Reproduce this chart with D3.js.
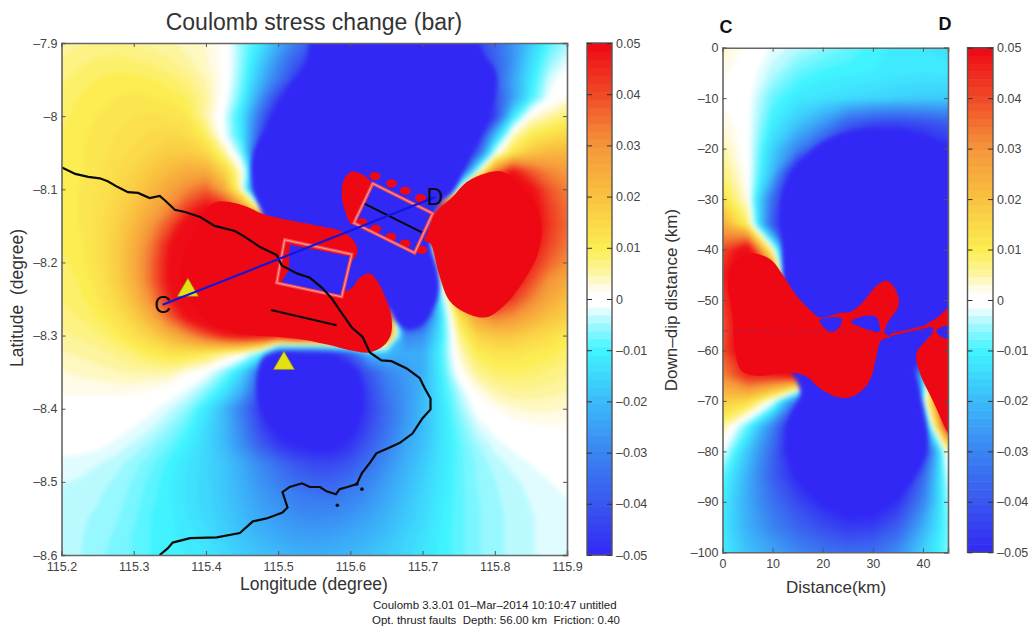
<!DOCTYPE html>
<html>
<head>
<meta charset="utf-8">
<script src="https://cdn.jsdelivr.net/npm/d3@7"></script>
<style>
  body { margin: 0; background: #fff; }
  text { font-family: "Liberation Sans", Arial, sans-serif; fill: #333; }
</style>
</head>
<body>
<svg id="chart" width="1031" height="626"></svg>
<script>
const colorStops = [-5, -4, -3, -2, -1, -0.5, -0.25, -0.1, 0.1, 0.25, 0.5, 1, 2, 3, 4, 5];
const colorValues = ['#3228f5', '#3a56f0', '#3a84f2', '#3cbafa', '#40f4ff', '#a0f8ff', '#dcfcff', '#ffffff',
  '#ffffff', '#fffbe4', '#fdf5a6', '#fcee52', '#f9c240', '#f5963a', '#f04a28', '#ee0814'];

const barTicks = [0.05, 0.04, 0.03, 0.02, 0.01, 0, -0.01, -0.02, -0.03, -0.04, -0.05];

const mapLonTicks = [115.2, 115.3, 115.4, 115.5, 115.6, 115.7, 115.8, 115.9];
const mapLatTicks = [-7.9, -8, -8.1, -8.2, -8.3, -8.4, -8.5, -8.6];
const sectionDistTicks = [0, 10, 20, 30, 40];
const sectionDepthTicks = [0, -10, -20, -30, -40, -50, -60, -70, -80, -90, -100];

// map grid: 115.2..115.9 and -7.9..-8.6, every 0.025 degree
const mapField = [
  [.55,.6,.65,.65,.6,.55,.5,.4,.3,.1,-.6,-1.2,-2.2,-3.2,-4,-4.7,-5.2,-5.5,-5.6,-5.6,-5.5,-5.3,-5,-4.4,-3.6,-2.7,-1.7,-.9,-.5],
  [.65,.75,.8,.85,.8,.75,.65,.5,.35,.1,-.6,-1.6,-2.8,-3.9,-4.9,-5.5,-6,-6,-6,-6,-6,-5.8,-5.4,-4.7,-3.8,-2.7,-1.4,-.6,-.2],
  [.75,.85,.95,1,1,.95,.85,.7,.45,.1,-.7,-2,-3.3,-4.6,-5.5,-6,-6,-6,-6,-6,-6,-6,-5.6,-5,-3.9,-2.4,-1.2,-.3,.05],
  [.85,.95,1.05,1.1,1.15,1.1,1.05,.9,.55,.05,-.9,-2.6,-4.5,-5.5,-6,-6,-6,-6,-6,-6,-6,-6,-5.8,-5.3,-4.2,-2.5,-1,-.1,.2],
  [.9,1,1.1,1.2,1.25,1.3,1.25,1.1,.5,-.15,-1.3,-3.5,-5.5,-6,-6,-6,-6,-6,-6,-6,-6,-6,-6,-5.5,-4.5,-1.2,.2,.5,.8],
  [.95,1.05,1.15,1.25,1.35,1.45,1.5,1.4,.9,-.1,-1.2,-4,-6,-6,-6,-6,-6,-6,-6,-6,-6,-6,-6,-5.5,-2,.3,1,1.3,1.5],
  [1,1.05,1.2,1.3,1.45,1.6,1.8,1.8,1.5,.6,-.7,-5,-6,-6,-6,-6,-6,-6,-6,-6,-6,-6,-6,-4,-.2,1.2,1.9,2.2,2.3],
  [1,1.05,1.2,1.4,1.6,1.9,2.2,2.5,2.5,1.6,.2,-3,-6,-6,-6,-6,-6,-6,-6,-6,-6,-6,-5,-.5,3.2,4.8,3.8,3.2,2.9],
  [1,1.1,1.25,1.45,1.75,2.2,2.7,3.2,3.7,2.6,.2,-5,-6,-6,-6,-6,-6,-6,-6,-6,-6,-6,0,5.5,6,6,5,3.9,3.3],
  [1,1.1,1.3,1.55,1.95,2.5,3.2,4.2,5,4.6,3,.3,-6,-6,-6,-6,-6,-6,-6,-6,-6,6,6,6,6,6,5.4,4.2,3.5],
  [1,1.1,1.3,1.65,2.2,3,4,5.5,6,6,6,6,6,6,6,-6,-6,-6,-6,-6,-6,6,6,6,6,6,5.5,4.3,3.6],
  [.95,1.05,1.3,1.7,2.4,3.4,4.8,6,6,6,6,6,6,6,6,6,6,-6,-6,-6,-6,6,6,6,6,6,5.2,4.1,3.4],
  [.9,1,1.3,1.7,2.5,3.6,5,6,6,6,6,6,6,6,6,6,6,-6,-6,-6,-6,3,6,6,6,6,4.6,3.7,3.1],
  [.85,.95,1.2,1.65,2.4,3.6,5,6,6,6,6,6,6,6,6,6,6,6,-2,-6,-6,.1,5,6,6,5.2,4,3,2.6],
  [.8,.9,1.1,1.5,2.1,3.2,4.6,6,6,6,6,6,6,6,6,6,6,6,6,-6,-6,-1,2.5,5,5.2,4.2,3.3,2.6,2.1],
  [.7,.8,.95,1.25,1.7,2.5,3.7,5,6,6,6,6,6,6,6,6,6,6,6,-5.5,-4.5,-1.3,1.2,2.7,3.3,3,2.5,2,1.7],
  [.6,.65,.75,.95,1.3,1.7,2.3,3,3.8,4.6,5,5,5,6,6,6,6,6,4,-3,-2.8,-1.2,.6,1.6,1.9,1.9,1.6,1.4,1.1],
  [.45,.5,.55,.65,.8,1,1.2,1.2,1,.6,.2,-.8,-5,-5.5,-5.5,-5,-4,-2,-2,-2.3,-2.2,-1,.3,1,1.2,1.2,1.1,1,.85],
  [.3,.35,.4,.45,.5,.5,.5,.2,-.05,-.6,-1.5,-3.5,-5.5,-6,-6,-5.8,-5,-4,-3,-2.6,-2.2,-1.1,.05,.6,.85,.9,.85,.75,.65],
  [.2,.2,.2,.2,.2,.15,0,-.2,-.6,-1.2,-2.2,-4,-5.5,-6,-6,-6,-5.4,-4.4,-3.3,-2.7,-2.1,-1.2,-.4,.2,.5,.6,.6,.55,.5],
  [.02,.02,0,0,0,-.1,-.3,-.6,-1.2,-2,-3.2,-4.6,-5.7,-6,-6,-6,-5.6,-4.5,-3.5,-2.7,-2,-1.3,-.6,-.05,.15,.3,.35,.35,.3],
  [0,0,-.02,-.05,-.15,-.3,-.55,-.9,-1.4,-2,-3,-4.3,-5.3,-5.7,-5.9,-5.8,-5.3,-4.3,-3.4,-2.6,-2,-1.3,-.75,-.3,-.05,.05,.1,.15,.12],
  [-.05,-.05,-.1,-.2,-.35,-.55,-.8,-1.1,-1.5,-2,-2.8,-3.8,-4.6,-5,-5.2,-5.2,-4.7,-3.9,-3.1,-2.4,-1.9,-1.3,-.85,-.5,-.25,-.1,-.02,0,0],
  [-.22,-.25,-.3,-.4,-.55,-.75,-1,-1.25,-1.5,-1.8,-2.3,-2.9,-3.5,-4,-4.3,-4.3,-4,-3.4,-2.8,-2.2,-1.75,-1.25,-.85,-.6,-.4,-.25,-.15,-.08,-.05],
  [-.3,-.33,-.4,-.5,-.65,-.85,-1.05,-1.3,-1.5,-1.8,-2.2,-2.7,-3.1,-3.5,-3.7,-3.7,-3.4,-3,-2.5,-2.05,-1.6,-1.2,-.85,-.62,-.48,-.36,-.25,-.16,-.12],
  [-.36,-.4,-.46,-.55,-.7,-.9,-1.05,-1.3,-1.5,-1.75,-2.1,-2.5,-2.8,-3.1,-3.2,-3.2,-3,-2.7,-2.3,-1.9,-1.5,-1.15,-.85,-.65,-.5,-.4,-.3,-.22,-.16],
  [-.38,-.44,-.5,-.6,-.75,-.95,-1.05,-1.25,-1.45,-1.7,-2,-2.3,-2.55,-2.75,-2.85,-2.8,-2.65,-2.4,-2.1,-1.75,-1.45,-1.1,-.85,-.65,-.52,-.42,-.33,-.25,-.2],
  [-.38,-.45,-.55,-.65,-.8,-.95,-1.05,-1.15,-1.35,-1.6,-1.85,-2.1,-2.3,-2.45,-2.5,-2.45,-2.3,-2.15,-1.9,-1.6,-1.35,-1.05,-.85,-.65,-.52,-.42,-.33,-.25,-.2],
  [-.38,-.46,-.58,-.7,-.8,-.95,-1,-1.1,-1.25,-1.45,-1.65,-1.85,-2,-2.15,-2.2,-2.15,-2.05,-1.9,-1.7,-1.5,-1.25,-1.05,-.85,-.65,-.52,-.42,-.33,-.25,-.2],
];

// section grid: 0..45 km and 0..-100 km, every 5 km
const sectionField = [
  [.4,.1,-.2,-.4,-.6,-.8,-1,-1.15,-1.25,-1.3],
  [.2,0,-.4,-.8,-1,-1.05,-1.1,-1.2,-1.25,-1.2],
  [.1,-.05,-.8,-1.2,-1.3,-1.4,-1.5,-1.6,-1.65,-1.7],
  [.3,-.05,-1.1,-1.8,-2.6,-3.8,-4.3,-4.4,-4.2,-3.9],
  [.5,0,-1.6,-3,-4.5,-5.5,-6,-6,-5.5,-4.9],
  [.8,.05,-2,-6,-6,-6,-6,-6,-6,-6],
  [1.3,.2,-3.5,-6,-6,-6,-6,-6,-6,-6],
  [2.5,.9,-4,-6,-6,-6,-6,-6,-6,-6],
  [4,5.5,.3,-6,-6,-6,-6,-6,-6,-6],
  [4.6,6,4,-6,-6,-6,-6,-6,-6,-6],
  [4.2,6,6,3,-6,-6,-6,-6,-6,-6],
  [3.8,6,6,6,6,6,6,-6,-6,6],
  [3.9,6,6,6,6,6,6,-6,-6,6],
  [3.2,4.5,4.6,5,6,6,4.5,-6,-2,6],
  [1.8,1.5,0,-3.5,-5,-1.5,-6,-6,-.5,6],
  [.6,-.8,-3,-6,-6,-6,-6,-6,-3,5],
  [-.1,-1.8,-3.6,-6,-6,-6,-6,-6,-5,.5],
  [-.8,-2.2,-3.8,-5,-7,-7,-7,-6.5,-3.6,-.2],
  [-1.1,-2.3,-3.4,-4.3,-5,-5.6,-5.5,-4.8,-3,-.5],
  [-1.2,-2.2,-3,-3.7,-4.2,-4.6,-4.5,-3.8,-2.2,-.7],
  [-1.1,-1.9,-2.4,-2.9,-3.3,-3.5,-3.4,-2.8,-1.6,-.7],
];

// contours where the map saturates, [lon, lat]
const mapBlueZones = [
  [[115.555,-7.875],[115.755,-7.875],[115.788,-7.919],[115.802,-7.941],[115.8,-7.978],[115.788,-8.01],[115.769,-8.047],[115.755,-8.078],[115.741,-8.105],[115.723,-8.122],[115.71,-8.17],[115.721,-8.211],[115.723,-8.238],[115.714,-8.265],[115.699,-8.286],[115.682,-8.292],[115.665,-8.283],[115.654,-8.265],[115.634,-8.238],[115.585,-8.238],[115.488,-8.169],[115.477,-8.131],[115.465,-8.1],[115.463,-8.06],[115.481,-8.019],[115.499,-7.989],[115.516,-7.957],[115.537,-7.93]],
  [[115.479,-8.331],[115.47,-8.379],[115.484,-8.416],[115.53,-8.447],[115.585,-8.443],[115.617,-8.392],[115.609,-8.347],[115.592,-8.337],[115.544,-8.33],[115.506,-8.324]],
];
const mapRedZones = [
  [[115.41,-8.119],[115.436,-8.118],[115.457,-8.124],[115.477,-8.133],[115.509,-8.141],[115.551,-8.149],[115.592,-8.159],[115.607,-8.174],[115.61,-8.186],[115.602,-8.2],[115.591,-8.241],[115.602,-8.235],[115.613,-8.221],[115.627,-8.215],[115.639,-8.228],[115.65,-8.252],[115.657,-8.276],[115.656,-8.299],[115.646,-8.314],[115.627,-8.323],[115.599,-8.32],[115.571,-8.313],[115.537,-8.306],[115.502,-8.302],[115.447,-8.297],[115.403,-8.282],[115.378,-8.252],[115.364,-8.213],[115.378,-8.169]],
  [[115.602,-8.076],[115.591,-8.087],[115.588,-8.108],[115.592,-8.128],[115.602,-8.148],[115.616,-8.135],[115.621,-8.119],[115.629,-8.093],[115.62,-8.082]],
  [[115.717,-8.133],[115.741,-8.111],[115.761,-8.09],[115.788,-8.078],[115.811,-8.076],[115.838,-8.097],[115.858,-8.124],[115.865,-8.156],[115.858,-8.193],[115.838,-8.228],[115.816,-8.256],[115.788,-8.275],[115.758,-8.268],[115.737,-8.252],[115.723,-8.217],[115.712,-8.176],[115.705,-8.167],[115.712,-8.145]],
];
const mapRedDots = [[115.634,-8.082],[115.657,-8.092],[115.676,-8.102],[115.697,-8.112],[115.635,-8.154],[115.656,-8.165],[115.676,-8.174],[115.699,-8.183],[115.616,-8.145],[115.717,-8.138],[115.71,-8.168]];

const faultPlanes = [
  [[115.631,-8.092],[115.714,-8.133],[115.689,-8.187],[115.605,-8.146]],
  [[115.509,-8.169],[115.602,-8.189],[115.588,-8.247],[115.498,-8.228]],
];
const faultInteriors = [
  [[115.631,-8.092],[115.714,-8.133],[115.689,-8.187],[115.605,-8.146]],
  [[115.516,-8.176],[115.6,-8.192],[115.587,-8.245],[115.504,-8.228],[115.515,-8.21]],
];
const faultTraces = [
  [[115.62,-8.12],[115.699,-8.159]],
  [[115.49,-8.265],[115.581,-8.286]],
];
const sectionLine = [[115.34,-8.258],[115.717,-8.111]];
const stations = [[115.375,-8.238],[115.508,-8.338]];

const coastline = [
  [115.2,-8.07],[115.219,-8.079],[115.237,-8.083],[115.253,-8.085],[115.264,-8.089],[115.278,-8.097],[115.292,-8.104],[115.306,-8.105],[115.322,-8.112],[115.336,-8.109],[115.343,-8.115],[115.357,-8.128],[115.371,-8.131],[115.392,-8.138],[115.412,-8.15],[115.44,-8.157],[115.454,-8.165],[115.475,-8.179],[115.498,-8.19],[115.505,-8.204],[115.526,-8.215],[115.544,-8.221],[115.56,-8.234],[115.574,-8.249],[115.585,-8.265],[115.602,-8.289],[115.617,-8.302],[115.627,-8.323],[115.643,-8.334],[115.657,-8.335],[115.678,-8.345],[115.696,-8.358],[115.703,-8.372],[115.711,-8.386],[115.711,-8.401],[115.7,-8.413],[115.686,-8.434],[115.668,-8.447],[115.652,-8.454],[115.636,-8.461],[115.627,-8.474],[115.616,-8.488],[115.609,-8.503],[115.596,-8.507],[115.585,-8.51],[115.58,-8.517],[115.567,-8.513],[115.558,-8.507],[115.544,-8.507],[115.533,-8.502],[115.516,-8.507],[115.506,-8.514],[115.512,-8.532],[115.513,-8.535],[115.506,-8.542],[115.484,-8.55],[115.465,-8.554],[115.447,-8.57],[115.415,-8.576],[115.378,-8.577],[115.354,-8.583],[115.347,-8.591],[115.336,-8.6],
];
const islands = [[115.616,-8.51],[115.582,-8.532],[115.609,-8.503]];

// section contours, [distance km, depth km]
const sectionBlueZones = [
  [[25.4,-16.6],[36,-16.5],[44.7,-19],[48,-20],[48,-54],[38,-60],[39.5,-68],[41,-78],[40,-82],[34,-89.6],[26.7,-92.3],[19.4,-90.3],[14.8,-85],[12.8,-78.4],[13.4,-73],[15.5,-68.5],[12,-60],[12,-45],[11.8,-38],[11.4,-32.8],[12,-28.5],[14,-25],[18.7,-19.6]],
];
const sectionRedZones = [
  [[5.5,-40.8],[8,-41.2],[10,-42.3],[12,-45],[15,-49.4],[17.5,-52],[19.4,-53.5],[23.3,-52.6],[25.7,-52.3],[28.1,-50.3],[29.4,-48.7],[31,-47],[32.7,-46.2],[34.3,-47.5],[35.2,-50],[35,-51.5],[33,-54.5],[32.3,-56.5],[33.5,-57.3],[31.7,-58],[30.7,-61.2],[29.7,-65.2],[28,-67.8],[25.4,-69.3],[22.7,-69.2],[19.4,-67.5],[16.8,-65.2],[14,-64.4],[6.8,-65],[3.8,-64],[2.5,-60],[2,-53],[1.1,-46.7],[2.1,-42.7]],
  [[42,-56.3],[38.7,-60.6],[39.4,-64.5],[42,-70],[45,-76.5],[47,-80],[47,-54.5],[42,-54.6]],
  [[45,-51.7],[42.7,-53.6],[40.5,-55],[47,-55.2],[47,-51]],
];
const sectionPockets = [
  [[19.4,-54],[23.7,-53.6],[23.4,-55.3],[21.7,-56.4],[20.4,-55.6]],
  [[25.7,-54.3],[28.1,-53.2],[30.7,-53.4],[31.3,-56.3],[28.8,-55.8]],
  [[42.7,-56],[45,-55.2],[46,-57.8],[43.3,-57.1]],
];
const sectionThinLine = [[33.5,-56.9],[41,-55.2]];
const sectionDepthLine = [[0,-56.1],[45,-56.1]];

const svg = d3.select('#chart');
const defs = svg.append('defs');

const stressColor = d3.scaleLinear().domain(colorStops).range(colorValues).clamp(true);
const bandCount = 64;
const bandStep = 10 / bandCount;
const bands = d3.range(bandCount).map((i) => -5 + i * bandStep);

const dash = (d) => String(d).replace('-', '\u2013');
const zoneLine = d3.line().curve(d3.curveCatmullRomClosed.alpha(0.5));

function drawField(g, rows, xStart, xStep, yStart, yStep, x, y) {
  const m = rows[0].length;
  const n = rows.length;
  const values = d3.merge(rows);
  const contours = d3.contours().size([m, n]).thresholds(bands)(values);
  // a grid value i sits at contour coordinate i + 0.5
  const project = d3.geoTransform({
    point(u, v) {
      this.stream.point(x(xStart + (u - 0.5) * xStep), y(yStart + (v - 0.5) * yStep));
    },
  });
  g.selectAll('path.band')
    .data(contours)
    .join('path')
    .attr('class', 'band')
    .attr('d', d3.geoPath(project))
    .attr('fill', (d) => stressColor(d.value + bandStep / 2));
}

function drawZones(g, zones, fill, x, y) {
  const project = (zone) => zone.map((p) => [x(p[0]), y(p[1])]);
  g.append('g').selectAll('path')
    .data(zones)
    .join('path')
    .attr('d', (d) => zoneLine(project(d)))
    .attr('fill', fill);
}

function drawFrame(g, x, y, xTicks, yTicks) {
  const [x0, x1] = x.range();
  const [y0, y1] = y.range();
  const top = Math.min(y0, y1);
  const bottom = Math.max(y0, y1);
  const axes = [
    [d3.axisBottom(x).tickValues(xTicks).tickSize(-4).tickPadding(7).tickFormat(dash), 0, bottom],
    [d3.axisTop(x).tickValues(xTicks).tickSize(-4).tickFormat(''), 0, top],
    [d3.axisLeft(y).tickValues(yTicks).tickSize(-4).tickPadding(4).tickFormat(dash), x0, 0],
    [d3.axisRight(y).tickValues(yTicks).tickSize(-4).tickFormat(''), x1, 0],
  ];
  axes.forEach(([axis, tx, ty]) => {
    const a = g.append('g').attr('transform', `translate(${tx},${ty})`).call(axis);
    a.select('.domain').attr('stroke', '#666').attr('stroke-width', 1.6);
    a.selectAll('.tick line').attr('stroke', '#555');
    a.selectAll('text').attr('font-size', 12.5).attr('font-family', null).style('fill', '#444');
  });
}

function drawColorbar(left, right, top, bottom) {
  const y = d3.scaleLinear().domain([-0.05, 0.05]).range([bottom, top]);
  const g = svg.append('g');
  g.append('g').attr('class', 'bar-bands')
    .selectAll('rect')
    .data(bands)
    .join('rect')
    .attr('x', left)
    .attr('width', right - left)
    .attr('y', (d) => y((d + bandStep) / 100))
    .attr('height', (y(0) - y(bandStep / 100)) + 0.5)
    .attr('fill', (d) => stressColor(d + bandStep / 2));
  g.append('rect')
    .attr('x', left).attr('y', top)
    .attr('width', right - left).attr('height', bottom - top)
    .attr('fill', 'none').attr('stroke', '#555').attr('stroke-width', 1.4);
  const r = g.append('g').attr('transform', `translate(${right},0)`)
    .call(d3.axisRight(y).tickValues(barTicks).tickSize(-5).tickPadding(4).tickFormat(dash));
  const l = g.append('g').attr('transform', `translate(${left},0)`)
    .call(d3.axisLeft(y).tickValues(barTicks).tickSize(-5).tickFormat(''));
  [r, l].forEach((a) => {
    a.select('.domain').remove();
    a.selectAll('.tick line').attr('stroke', '#333');
    a.selectAll('text').attr('font-size', 12.5).attr('font-family', null).style('fill', '#444');
  });
}

function clippedGroup(id, x, y) {
  const [x0, x1] = x.range();
  const [y0, y1] = y.range();
  defs.append('clipPath').attr('id', id)
    .append('rect')
    .attr('x', x0).attr('y', Math.min(y0, y1))
    .attr('width', x1 - x0).attr('height', Math.abs(y1 - y0));
  return svg.append('g').attr('clip-path', `url(#${id})`);
}

function drawLabel(text, x, y, size, opts = {}) {
  const t = svg.append('text')
    .attr('x', x).attr('y', y)
    .attr('font-size', size)
    .attr('text-anchor', opts.anchor || 'middle')
    .attr('font-weight', opts.weight || null)
    .text(text);
  if (opts.rotate) t.attr('transform', `rotate(${opts.rotate} ${x} ${y})`);
  if (opts.color) t.style('fill', opts.color);
}

function drawMap() {
  const x = d3.scaleLinear().domain([115.2, 115.9]).range([61.5, 567]);
  const y = d3.scaleLinear().domain([-7.9, -8.6]).range([43, 555]);
  const g = clippedGroup('map-clip', x, y);
  // the coarse grid gets a wider blur so its cell edges do not show
  const soft = g.append('g').style('filter', 'blur(2.5px)');
  soft.append('rect').attr('x', 40).attr('y', 20).attr('width', 550).attr('height', 560)
    .attr('fill', stressColor(-5));
  drawField(soft, mapField, 115.2, 0.025, -7.9, -0.025, x, y);
  const blue = g.append('g').style('filter', 'blur(2px)');
  drawZones(blue, mapBlueZones, stressColor(-5), x, y);
  const field = g.append('g').style('filter', 'blur(0.5px)');
  drawZones(field, mapRedZones, stressColor(5), x, y);
  field.append('g').selectAll('path')
    .data(faultInteriors)
    .join('path')
    .attr('d', (d) => d3.line()(d.map((p) => [x(p[0]), y(p[1])])) + 'Z')
    .attr('fill', stressColor(-5));
  field.append('g').selectAll('ellipse')
    .data(mapRedDots)
    .join('ellipse')
    .attr('cx', (d) => x(d[0])).attr('cy', (d) => y(d[1]))
    .attr('rx', 5.5).attr('ry', 4)
    .attr('fill', stressColor(5));

  const over = g.append('g').style('filter', 'blur(0.3px)');
  const line = d3.line().x((d) => x(d[0])).y((d) => y(d[1]));
  [['#f2484e', 3.4], ['#ffb4b4', 0.8]].forEach(([color, width]) => {
    over.append('g').selectAll('path')
      .data(faultPlanes)
      .join('path')
      .attr('d', (d) => line(d) + 'Z')
      .attr('fill', 'none')
      .attr('stroke', color)
      .attr('stroke-width', width);
  });
  over.append('path').datum(coastline)
    .attr('d', line).attr('fill', 'none').attr('stroke', '#0a0a0a').attr('stroke-width', 2.2);
  over.append('g').selectAll('circle')
    .data(islands)
    .join('circle')
    .attr('cx', (d) => x(d[0])).attr('cy', (d) => y(d[1])).attr('r', 1.8)
    .attr('fill', '#0a0a0a');
  over.append('g').selectAll('path')
    .data(faultTraces)
    .join('path')
    .attr('d', line).attr('fill', 'none').attr('stroke', '#0a0a0a').attr('stroke-width', 2);
  over.append('g').selectAll('path')
    .data(stations)
    .join('path')
    .attr('d', d3.symbol(d3.symbolTriangle, 190))
    .attr('transform', (d) => `translate(${x(d[0])},${y(d[1])})`)
    .attr('fill', '#e2e210')
    .attr('stroke', '#8a8a20')
    .attr('stroke-width', 0.7);
  over.append('path').datum(sectionLine)
    .attr('d', line).attr('fill', 'none').attr('stroke', '#1414dc').attr('stroke-width', 2.2);

  svg.append('text').attr('x', x(sectionLine[0][0])).attr('y', y(sectionLine[0][1]) + 8)
    .attr('font-size', 23).attr('text-anchor', 'middle').style('fill', '#0a0a0a').text('C');
  svg.append('text').attr('x', x(sectionLine[1][0])).attr('y', y(sectionLine[1][1]) + 8)
    .attr('font-size', 23).attr('text-anchor', 'middle').style('fill', '#0a0a0a').text('D');

  drawFrame(svg.append('g'), x, y, mapLonTicks, mapLatTicks);
}

function drawSection() {
  const x = d3.scaleLinear().domain([0, 45]).range([722.5, 948]);
  const y = d3.scaleLinear().domain([0, -100]).range([47.7, 552.3]);
  const g = clippedGroup('section-clip', x, y);
  const soft = g.append('g').style('filter', 'blur(2.5px)');
  soft.append('rect').attr('x', 700).attr('y', 20).attr('width', 270).attr('height', 560)
    .attr('fill', stressColor(-5));
  drawField(soft, sectionField, 0, 5, 0, -5, x, y);
  const blue = g.append('g').style('filter', 'blur(2px)');
  drawZones(blue, sectionBlueZones, stressColor(-5), x, y);
  const field = g.append('g').style('filter', 'blur(0.5px)');
  drawZones(field, sectionRedZones, stressColor(5), x, y);
  drawZones(field, sectionPockets, stressColor(-5), x, y);
  const line = d3.line().x((d) => x(d[0])).y((d) => y(d[1]));
  field.append('path').datum(sectionThinLine)
    .attr('d', line).attr('fill', 'none').attr('stroke', stressColor(5)).attr('stroke-width', 2.4);
  field.append('path').datum(sectionDepthLine)
    .attr('d', line).attr('fill', 'none')
    .attr('stroke', '#8a2a80').attr('stroke-opacity', 0.7)
    .attr('stroke-width', 0.9).attr('stroke-dasharray', '7 6');
  drawFrame(svg.append('g'), x, y, sectionDistTicks, sectionDepthTicks);
}

drawMap();
drawSection();
drawColorbar(587, 612, 43, 555);
drawColorbar(967.5, 993, 47.7, 552.3);

drawLabel('Coulomb stress change (bar)', 314, 30, 23);
drawLabel('Longitude (degree)', 314, 590, 17.5);
drawLabel('Latitude \u00a0(degree)', 23, 298, 17.5, { rotate: -90 });
drawLabel('Distance(km)', 836, 593, 17);
drawLabel('Down\u2013dip distance (km)', 677, 300, 17, { rotate: -90 });
drawLabel('C', 726, 33, 18, { weight: 'bold', color: '#111' });
drawLabel('D', 945, 30, 18, { weight: 'bold', color: '#111' });
drawLabel('Coulomb 3.3.01 01\u2013Mar\u20132014 10:10:47 untitled', 373, 609, 11.5, { anchor: 'start', color: '#222' });
drawLabel('Opt. thrust faults \u00a0Depth: 56.00 km \u00a0Friction: 0.40', 372, 624, 11.5, { anchor: 'start', color: '#222' });
</script>
</body>
</html>
